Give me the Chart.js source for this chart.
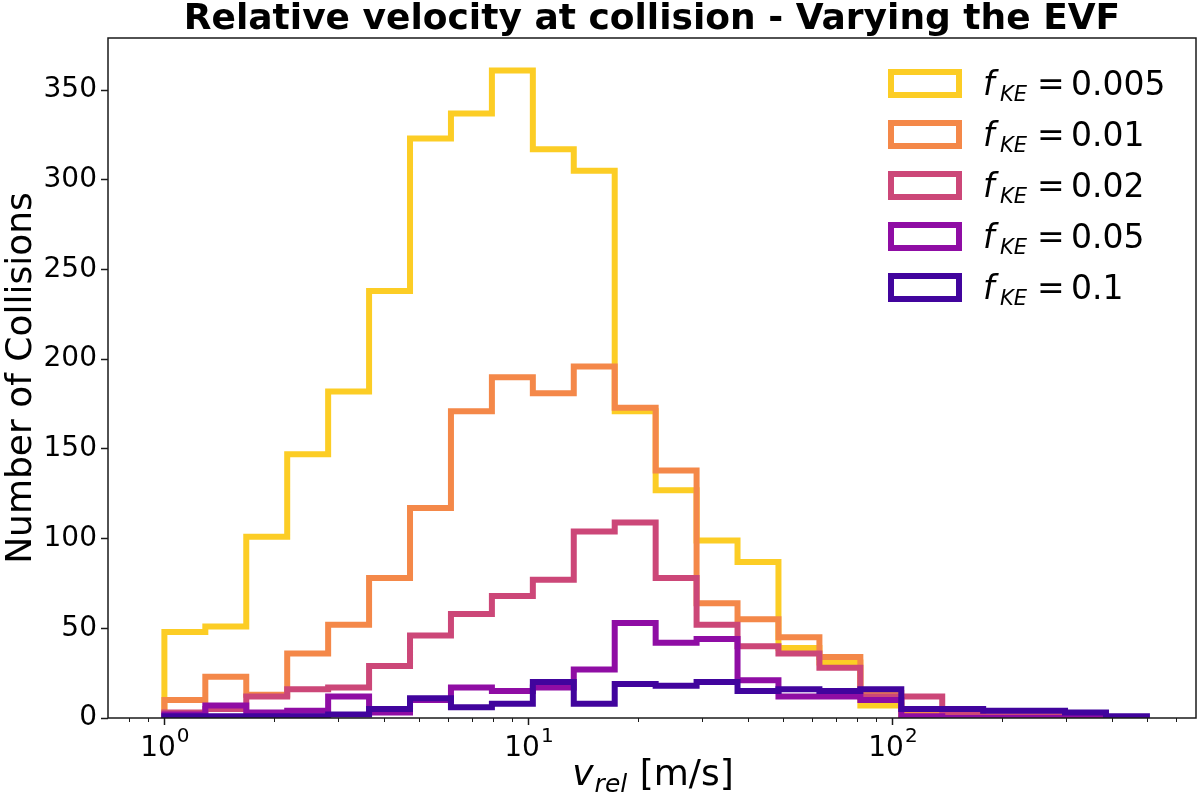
<!DOCTYPE html>
<html><head><meta charset="utf-8">
<script src="https://cdn.jsdelivr.net/npm/chart.js@4.4.1/dist/chart.umd.min.js"></script>
<style>html,body{margin:0;padding:0;background:#fff;} #wrap{width:1200px;height:798px;position:relative;}</style>
</head><body><div id="wrap"><canvas id="c" width="1200" height="798"></canvas></div>
<script>
// Histogram bin edges (log-spaced from 1 to 500 m/s, 24 bins)
const binEdges = [1, 1.2955, 1.6784, 2.1745, 2.8172, 3.6497, 4.7287, 6.1260, 7.9370, 10.283,
  13.321, 17.259, 22.361, 28.967, 37.530, 48.620, 62.996, 81.614, 105.74, 136.99,
  177.48, 229.93, 297.88, 385.92, 500];
const seriesNames = ['0.005', '0.01', '0.02', '0.05', '0.1'];
const countsF0005 = [48, 51, 101, 147, 182, 238, 323, 337, 361, 317, 305, 171, 127, 99, 87, 39, 31, 7, 1, 1, 0, 0, 0, 0];
const countsF001  = [10, 23, 13, 36, 52, 78, 117, 171, 190, 181, 196, 173, 138, 64, 55, 45, 34, 14, 2, 1, 0, 0, 0, 0];
const countsF002  = [3, 5, 12, 16, 17, 29, 46, 58, 68, 77, 104, 109, 78, 52, 40, 36, 28, 12, 12, 2, 1, 1, 1, 0];
const countsF005  = [2, 7, 3, 4, 12, 3, 10, 17, 15, 17, 27, 53, 42, 44, 21, 12, 12, 10, 1, 0, 0, 0, 1, 0];
const countsF01   = [1, 1, 1, 1, 2, 5, 11, 6, 8, 20, 8, 19, 18, 20, 15, 16, 15, 16, 5, 5, 4, 4, 3, 1];
const allCounts = [countsF0005, countsF001, countsF002, countsF005, countsF01];
const seriesColors = ['#fccd25', '#f48849', '#cc4778', '#8f0da4', '#41049d'];
const yTickValues = [0, 50, 100, 150, 200, 250, 300, 350];
const xMajorTicks = [1, 10, 100];
const xMajorExponents = ['0', '1', '2'];
const xMinorTicks = [0.8, 0.9, 2, 3, 4, 5, 6, 7, 8, 9, 20, 30, 40, 50, 60, 70, 80, 90, 200, 300, 400, 500, 600];
const titleText = 'Relative velocity at collision - Varying the EVF';
const yLabelText = 'Number of Collisions';

const FONT = '"DejaVu Sans", "Liberation Sans", sans-serif';

function stepPoints(counts) {
  const pts = [{x: binEdges[0], y: 0}];
  counts.forEach((c, i) => pts.push({x: binEdges[i], y: c}));
  pts.push({x: binEdges[binEdges.length - 1], y: 0});
  return pts;
}

const datasets = allCounts.map((counts, i) => ({
  label: 'f_KE = ' + seriesNames[i],
  data: stepPoints(counts),
  borderColor: seriesColors[i],
  backgroundColor: seriesColors[i],
  borderWidth: 6,
  stepped: 'before',
  pointRadius: 0,
  fill: false,
  borderJoinStyle: 'miter',
  borderCapStyle: 'butt',
  order: allCounts.length - i
}));

const decorPlugin = {
  id: 'decor',
  afterDraw(chart) {
    const ctx = chart.ctx;
    const a = chart.chartArea;
    const xs = chart.scales.x;
    ctx.save();
    // frame
    ctx.strokeStyle = '#1a1a1a';
    ctx.lineWidth = 1.5;
    ctx.strokeRect(a.left, a.top, a.right - a.left, a.bottom - a.top);
    // x ticks
    ctx.lineWidth = 1.5;
    xMajorTicks.forEach(v => {
      const px = Math.round(xs.getPixelForValue(v)) + 0.5;
      ctx.beginPath(); ctx.moveTo(px, a.bottom); ctx.lineTo(px, a.bottom + 7); ctx.stroke();
    });
    ctx.lineWidth = 1;
    xMinorTicks.forEach(v => {
      const px = Math.round(xs.getPixelForValue(v)) + 0.5;
      ctx.beginPath(); ctx.moveTo(px, a.bottom); ctx.lineTo(px, a.bottom + 4); ctx.stroke();
    });
    // x tick labels 10^n
    ctx.fillStyle = '#000';
    ctx.textBaseline = 'alphabetic';
    ctx.textAlign = 'left';
    xMajorTicks.forEach((v, i) => {
      const px = xs.getPixelForValue(v);
      ctx.font = '28px ' + FONT;
      const wb = ctx.measureText('10').width;
      ctx.font = '20px ' + FONT;
      const we = ctx.measureText(xMajorExponents[i]).width;
      const x0 = px - (wb + we) / 2;
      ctx.font = '28px ' + FONT;
      ctx.fillText('10', x0, 756);
      ctx.font = '20px ' + FONT;
      ctx.fillText(xMajorExponents[i], x0 + wb + 1, 742);
    });
    // title
    ctx.font = 'bold 36px ' + FONT;
    ctx.textAlign = 'center';
    ctx.fillText(titleText, (a.left + a.right) / 2, 29);
    // y label
    ctx.save();
    ctx.translate(31, (a.top + a.bottom) / 2);
    ctx.rotate(-Math.PI / 2);
    ctx.font = '36px ' + FONT;
    ctx.textAlign = 'center';
    ctx.fillText(yLabelText, 0, 0);
    ctx.restore();
    // x label: v_rel [m/s]
    ctx.textAlign = 'left';
    ctx.font = 'italic 36px ' + FONT;
    const wv = ctx.measureText('v').width;
    ctx.font = 'italic 25px ' + FONT;
    const wr = ctx.measureText('rel').width;
    ctx.font = '36px ' + FONT;
    const wu = ctx.measureText(' [m/s]').width;
    let x0 = (a.left + a.right) / 2 - (wv + wr + wu) / 2;
    ctx.font = 'italic 36px ' + FONT;
    ctx.fillText('v', x0, 785);
    ctx.font = 'italic 25px ' + FONT;
    ctx.fillText('rel', x0 + wv + 1, 792);
    ctx.font = '36px ' + FONT;
    ctx.fillText(' [m/s]', x0 + wv + wr + 2, 785);
    // legend
    seriesNames.forEach((name, i) => {
      const base = 95 + i * 51;
      ctx.strokeStyle = seriesColors[i];
      ctx.lineWidth = 6;
      ctx.lineJoin = 'miter';
      ctx.strokeRect(891, base - 23, 68, 23);
      ctx.fillStyle = '#000';
      ctx.font = 'italic 33px ' + FONT;
      ctx.fillText('f', 983, base);
      ctx.font = 'italic 21px ' + FONT;
      ctx.fillText('KE', 1000, base + 6);
      ctx.font = '33px ' + FONT;
      ctx.fillText('=', 1037, base);
      ctx.fillText(name, 1071, base);
    });
    ctx.restore();
  }
};

new Chart(document.getElementById('c'), {
  type: 'line',
  data: {datasets},
  options: {
    responsive: false,
    animation: false,
    devicePixelRatio: 1,
    layout: {padding: {top: 38, right: 4, left: 0, bottom: 0}},
    plugins: {legend: {display: false}, title: {display: false}, tooltip: {enabled: false}},
    scales: {
      x: {
        type: 'logarithmic', min: 0.733, max: 682,
        ticks: {display: false},
        grid: {display: false},
        border: {display: false},
        afterFit(s) { s.height = 80; }
      },
      y: {
        type: 'linear', min: 0, max: 379.05,
        afterBuildTicks(s) { s.ticks = yTickValues.map(v => ({value: v})); },
        ticks: {font: {family: FONT, size: 28}, color: '#000', padding: 4},
        grid: {drawOnChartArea: false, drawTicks: true, tickLength: 7, tickColor: '#1a1a1a', tickWidth: 1.5},
        border: {display: false},
        afterFit(s) { s.width = 108; }
      }
    }
  },
  plugins: [decorPlugin]
});
</script>
</body></html>
